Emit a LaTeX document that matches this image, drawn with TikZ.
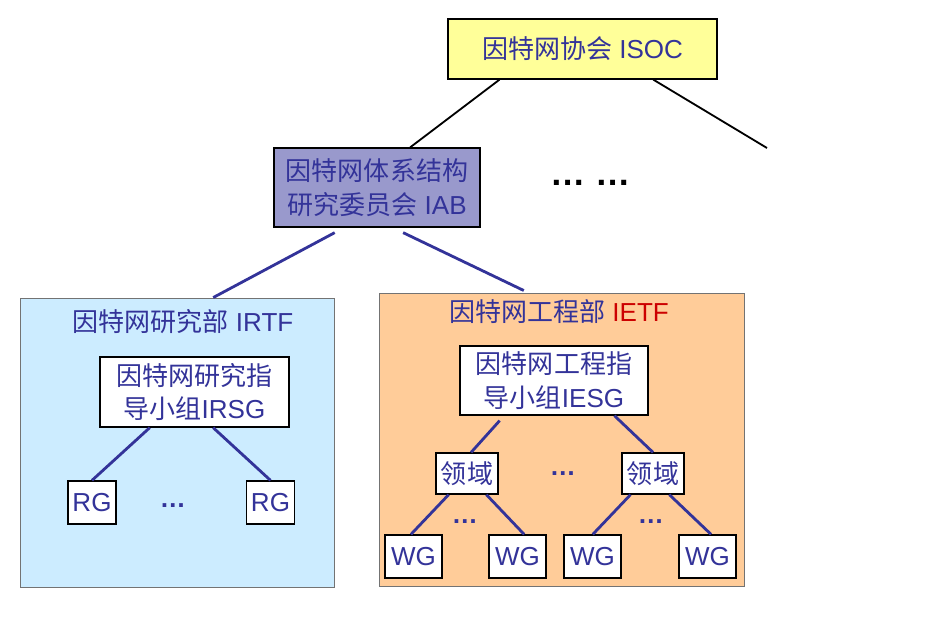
\documentclass[tikz,border=0pt]{standalone}
\usepackage{fontspec}
\setmainfont{Liberation Sans}
\newfontfamily\cjk{Noto Sans CJK SC}
\newcommand{\zh}[1]{{\cjk #1}}
\usetikzlibrary{calc}
\definecolor{textblue}{HTML}{333399}
\definecolor{isocyellow}{HTML}{FFFF99}
\definecolor{iabpurple}{HTML}{9999CC}
\definecolor{irtfblue}{HTML}{CCECFF}
\definecolor{ietforange}{HTML}{FFCC99}
\definecolor{ietfred}{HTML}{CC0000}
\begin{document}
\begin{tikzpicture}[x=0.025cm, y=-0.025cm,
    % Stil für die Kästen (Gremien und Gruppen)
        org/.style={rectangle, draw=black, line width=0.9pt, fill=white, text=textblue, align=center,
            font=\fontsize{18.5}{24}\selectfont, inner sep=0pt},
    % Stil für die großen Bereiche
        area/.style={rectangle, draw=black!55, line width=0.6pt, inner sep=0pt},
        title/.style={text=textblue, font=\fontsize{18.5}{24}\selectfont},
        dots/.style={text=textblue, font=\fontsize{18.5}{24}\selectfont\bfseries},
    % Stil für die Verbindungen
        link/.style={draw=textblue, line width=2pt},
        toplink/.style={draw=black, line width=1.3pt}]

        \useasboundingbox (0,0) rectangle (941,626);

        % oberste Ebene
        \node[org, fill=isocyellow, minimum width=6.725cm, minimum height=1.5cm] (isoc) at (582.5,49) {\zh{因特网协会} ISOC};
        \node[org, fill=iabpurple, minimum width=5.15cm, minimum height=1.975cm] (iab) at (377,187.5) {\zh{因特网体系结构}\\\zh{研究委员会} IAB};
        \node[font=\fontsize{25}{30}\selectfont\bfseries] (more) at (591,183) {… …};
        \coordinate (rest) at (767,148);

        % Bereiche IRTF und IETF
        \node[area, fill=irtfblue, minimum width=7.85cm, minimum height=7.225cm] (irtf) at (177,442.5) {};
        \node[area, fill=ietforange, minimum width=9.125cm, minimum height=7.325cm] (ietf) at (561.5,439.5) {};
        \node[title] (irtftitle) at (183,322) {\zh{因特网研究部} IRTF};
        \node[title] (ietftitle) at (559,312) {\zh{因特网工程部} \textcolor{ietfred}{IETF}};

        % IRTF innen
        \node[org, minimum width=4.725cm, minimum height=1.75cm] (irsg) at (194.5,392) {\zh{因特网研究指}\\\zh{导小组}IRSG};
        \node[org, minimum width=1.2cm, minimum height=1.075cm] (rg1) at (92,502.5) {RG};
        \node[org, minimum width=1.2cm, minimum height=1.075cm] (rg2) at (270.5,502.5) {RG};
        \node[dots] (rgdots) at (173,506) {…};

        % IETF innen
        \node[org, minimum width=4.7cm, minimum height=1.725cm] (iesg) at (554,380.5) {\zh{因特网工程指}\\\zh{导小组}IESG};
        \node[org, minimum width=1.55cm, minimum height=1.025cm] (area1) at (467,473.5) {\zh{领域}};
        \node[org, minimum width=1.55cm, minimum height=1.025cm] (area2) at (653,473.5) {\zh{领域}};
        \node[dots] (areadots) at (563,474) {…};
        \node[org, minimum width=1.425cm, minimum height=1.075cm] (wg1) at (413.5,556.5) {WG};
        \node[org, minimum width=1.425cm, minimum height=1.075cm] (wg2) at (517.5,556.5) {WG};
        \node[org, minimum width=1.425cm, minimum height=1.075cm] (wg3) at (592.5,556.5) {WG};
        \node[org, minimum width=1.425cm, minimum height=1.075cm] (wg4) at (707.5,556.5) {WG};
        \node[dots] (wgdots1) at (465,522) {…};
        \node[dots] (wgdots2) at (651,522) {…};

        % Verbindungen
        \draw[toplink] ($(isoc.south west)!0.193!(isoc.south east)$) -- ($(iab.north west)!0.66!(iab.north east)$);
        \draw[toplink] ($(isoc.south west)!0.762!(isoc.south east)$) -- (rest);
        \draw[link] ($(iab.south west)!0.296!(iab.south east)+(0,5)$) -- ($(irtf.north west)!0.615!(irtf.north east)$);
        \draw[link] ($(iab.south west)!0.626!(iab.south east)+(0,5)$) -- ($(ietf.north west)!0.397!(ietf.north east)+(0,-2)$);
        \draw[link] ($(irsg.south west)!0.265!(irsg.south east)$) -- (rg1.north);
        \draw[link] ($(irsg.south west)!0.598!(irsg.south east)$) -- (rg2.north);
        \draw[link] ($(iesg.south west)!0.213!(iesg.south east)+(0,5)$) -- ($(area1.north west)!0.565!(area1.north east)$);
        \draw[link] ($(iesg.south west)!0.819!(iesg.south east)$) -- (area2.north);
        \draw[link] ($(area1.south west)!0.21!(area1.south east)$) -- ($(wg1.north west)!0.456!(wg1.north east)$);
        \draw[link] ($(area1.south west)!0.806!(area1.south east)$) -- ($(wg2.north west)!0.614!(wg2.north east)$);
        \draw[link] ($(area2.south west)!0.145!(area2.south east)$) -- ($(wg3.north west)!0.505!(wg3.north east)$);
        \draw[link] ($(area2.south west)!0.758!(area2.south east)$) -- ($(wg4.north west)!0.561!(wg4.north east)$);
    \end{tikzpicture}
\end{document}
